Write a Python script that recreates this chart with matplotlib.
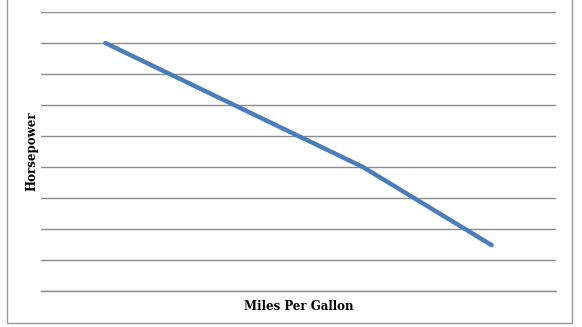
import matplotlib
matplotlib.use("Agg")
import matplotlib.pyplot as plt
from matplotlib.patches import Rectangle

# data (categories on x, horsepower on y)
mpg_labels = ["15", "20", "25", "30"]
horsepower = [200, 150, 100, 37]
y_ticks = [0, 25, 50, 75, 100, 125, 150, 175, 200, 225]

fig = plt.figure(figsize=(5.82, 3.27), dpi=100)
ax = fig.add_axes([41/582, 1-291/327, (556-41)/582, (291-12)/327])

x = range(len(mpg_labels))
ax.plot(x, horsepower, color="#4A7EBB", lw=3.2, solid_capstyle="round", solid_joinstyle="round", zorder=3)

ax.set_xlim(-0.5, len(mpg_labels)-0.5)
ax.set_ylim(0, 225)
ax.set_yticks(y_ticks)
ax.set_xticks(list(x))
ax.set_xticklabels([])
ax.set_yticklabels([])
ax.tick_params(length=0)
ax.grid(axis="y", color="#8c8c8c", lw=1.0)
for s in ["top", "right", "left"]:
    ax.spines[s].set_visible(False)
ax.spines["bottom"].set_color("#8c8c8c")
ax.spines["bottom"].set_linewidth(1.0)

ax.set_xlabel("Miles Per Gallon", fontfamily="DejaVu Serif", fontweight="bold", fontsize=8.5, labelpad=3)
ax.set_ylabel("Horsepower", fontfamily="DejaVu Serif", fontweight="bold", fontsize=8.5)
ax.yaxis.set_label_coords(-0.004, 0.5)

# outer chart border
fig.patches.append(Rectangle((7/582, 1-323/327), (572-7)/582, 330/327, transform=fig.transFigure,
                             fill=False, edgecolor="#999999", lw=1.0))

fig.savefig("out.png", dpi=100)
